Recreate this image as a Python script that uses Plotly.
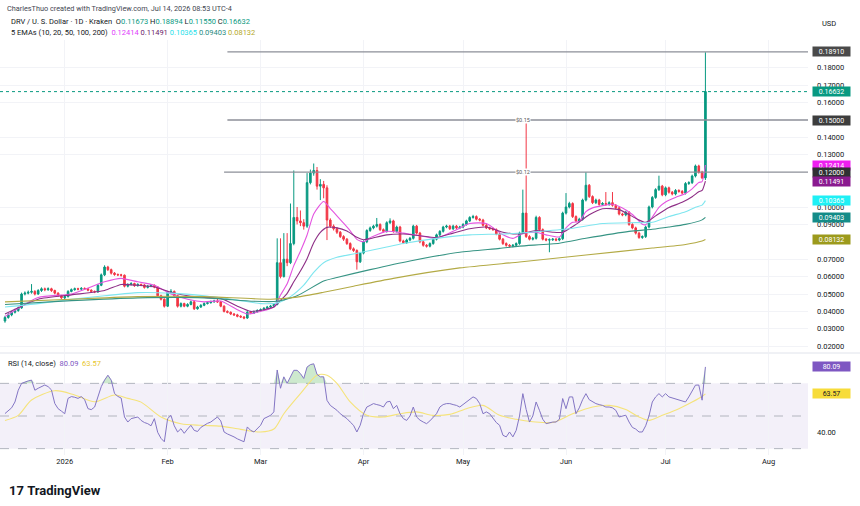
import plotly.graph_objects as go
import pandas as pd
import numpy as np

# ---------------- data ----------------
start_date = "2025-12-14"
n_days = 212
dates = pd.date_range(start_date, periods=n_days, freq="D")

opens = [.0345,.0365,.0380,.0395,.0405,.0420,.0500,.0505,.0510,.0515,
 .0500,.0520,.0530,.0525,.0530,.0520,.0505,.0490,.0478,.0485,
 .0515,.0525,.0530,.0528,.0532,.0530,.0522,.0515,.0512,.0550,
 .0610,.0655,.0640,.0620,.0612,.0610,.0608,.0545,.0555,.0560,
 .0548,.0555,.0552,.0538,.0545,.0550,.0540,.0490,.0470,.0430,
 .0510,.0515,.0490,.0430,.0445,.0430,.0440,.0455,.0415,.0425,
 .0435,.0445,.0450,.0455,.0460,.0455,.0430,.0400,.0395,.0385,
 .0380,.0372,.0368,.0362,.0395,.0390,.0398,.0405,.0410,.0418,
 .0425,.0430,.0440,.0680,.0600,.0700,.0680,.0790,.0940,.0920,
 .0910,.0890,.1140,.1195,.1210,.1120,.1130,.1110,.0925,.0890,
 .0875,.0855,.0830,.0815,.0790,.0760,.0750,.0685,.0735,.0800,
 .0865,.0880,.0890,.0900,.0870,.0860,.0910,.0920,.0860,.0885,
 .0805,.0795,.0810,.0820,.0890,.0850,.0800,.0780,.0775,.0790,
 .0815,.0840,.0860,.0885,.0890,.0875,.0890,.0880,.0885,.0900,
 .0920,.0940,.0945,.0930,.0925,.0895,.0880,.0875,.0870,.0845,
 .0815,.0790,.0780,.0775,.0780,.0790,.0850,.0965,.0830,.0815,
 .0820,.0940,.0870,.0815,.0810,.0812,.0815,.0810,.0818,.0965,
 .1000,.1020,.0945,.0920,.0930,.1040,.1125,.1060,.1025,.1040,
 .1015,.1020,.1015,.1025,.1010,.0995,.0960,.0955,.0970,.0900,
 .0880,.0850,.0825,.0830,.0885,.1000,.1055,.1100,.1120,.1070,
 .1110,.1085,.1075,.1095,.1090,.1080,.1135,.1140,.1178,.1236,
 .1200,.11673]

closes = [.0365,.0380,.0395,.0405,.0420,.0500,.0505,.0510,.0515,.0500,
 .0520,.0530,.0525,.0530,.0520,.0505,.0490,.0478,.0485,.0515,
 .0525,.0530,.0528,.0532,.0530,.0522,.0515,.0512,.0550,.0610,
 .0655,.0640,.0620,.0612,.0610,.0608,.0545,.0555,.0560,.0548,
 .0555,.0552,.0538,.0545,.0550,.0540,.0490,.0470,.0430,.0510,
 .0515,.0490,.0430,.0445,.0430,.0440,.0455,.0415,.0425,.0435,
 .0445,.0450,.0455,.0460,.0455,.0430,.0400,.0395,.0385,.0380,
 .0372,.0368,.0362,.0395,.0390,.0398,.0405,.0410,.0418,.0425,
 .0430,.0440,.0680,.0600,.0700,.0680,.0790,.0940,.0920,.0910,
 .0890,.1140,.1195,.1210,.1120,.1130,.1110,.0925,.0890,.0875,
 .0855,.0830,.0815,.0790,.0760,.0750,.0685,.0735,.0800,.0865,
 .0880,.0890,.0900,.0870,.0860,.0910,.0920,.0860,.0885,.0805,
 .0795,.0810,.0820,.0890,.0850,.0800,.0780,.0775,.0790,.0815,
 .0840,.0860,.0885,.0890,.0875,.0890,.0880,.0885,.0900,.0920,
 .0940,.0945,.0930,.0925,.0895,.0880,.0875,.0870,.0845,.0815,
 .0790,.0780,.0775,.0780,.0790,.0850,.0965,.0830,.0815,.0820,
 .0940,.0870,.0815,.0810,.0812,.0815,.0810,.0818,.0965,.1000,
 .1020,.0945,.0920,.0930,.1040,.1125,.1060,.1025,.1040,.1015,
 .1020,.1015,.1025,.1010,.0995,.0960,.0955,.0970,.0900,.0880,
 .0850,.0825,.0830,.0885,.1000,.1055,.1100,.1120,.1070,.1110,
 .1085,.1075,.1095,.1090,.1080,.1135,.1140,.1178,.1236,.1200,
 .11673,.16632]

highs = [.0375,.0390,.0402,.0415,.0428,.0508,.0515,.0520,.0557,.0522,
 .0528,.0538,.0537,.0538,.0536,.0525,.0510,.0495,.0492,.0522,
 .0532,.0537,.0536,.0540,.0538,.0535,.0527,.0520,.0558,.0618,
 .0665,.0662,.0646,.0626,.0618,.0616,.0612,.0562,.0568,.0565,
 .0562,.0560,.0557,.0552,.0557,.0555,.0545,.0496,.0475,.0518,
 .0528,.0520,.0495,.0452,.0450,.0447,.0462,.0460,.0432,.0442,
 .0452,.0457,.0462,.0467,.0480,.0460,.0435,.0406,.0400,.0391,
 .0386,.0378,.0373,.0402,.0401,.0405,.0412,.0417,.0425,.0432,
 .0437,.0447,.0820,.0820,.0850,.0850,.1020,.1210,.1000,.0980,
 .0930,.1195,.1215,.1250,.1230,.1160,.1150,.1125,.0935,.0900,
 .0885,.0862,.0838,.0822,.0797,.0768,.0757,.0742,.0808,.0872,
 .0888,.0898,.0937,.0906,.0877,.0918,.0935,.0927,.0893,.0892,
 .0812,.0818,.0828,.0898,.0897,.0857,.0807,.0787,.0797,.0822,
 .0847,.0867,.0892,.0898,.0897,.0898,.0897,.0892,.0907,.0927,
 .0947,.0955,.0952,.0937,.0932,.0902,.0887,.0882,.0877,.0852,
 .0822,.0797,.0787,.0787,.0797,.0858,.1100,.1500,.0838,.0828,
 .0950,.0947,.0877,.0822,.0820,.0822,.0822,.0825,.0973,.1080,
 .1030,.1027,.0952,.0938,.1048,.1200,.1132,.1067,.1048,.1047,
 .1028,.1086,.1033,.1086,.1017,.1002,.0967,.0978,.0977,.0907,
 .0887,.0857,.0837,.0893,.1008,.1063,.1108,.1180,.1127,.1118,
 .1117,.1092,.1103,.1102,.1097,.1143,.1148,.1186,.1244,.1243,
 .1208,.18894]

lows = [.0335,.0358,.0372,.0388,.0398,.0415,.0492,.0498,.0502,.0492,
 .0495,.0512,.0516,.0518,.0512,.0498,.0484,.0472,.0470,.0480,
 .0510,.0519,.0521,.0522,.0524,.0516,.0508,.0505,.0507,.0545,
 .0603,.0632,.0612,.0605,.0603,.0600,.0538,.0538,.0549,.0541,
 .0542,.0545,.0531,.0532,.0539,.0533,.0483,.0463,.0422,.0425,
 .0503,.0484,.0422,.0423,.0424,.0424,.0435,.0408,.0410,.0420,
 .0430,.0440,.0445,.0450,.0449,.0424,.0394,.0389,.0379,.0374,
 .0366,.0362,.0355,.0357,.0384,.0385,.0393,.0400,.0405,.0413,
 .0420,.0425,.0435,.0590,.0595,.0660,.0672,.0780,.0900,.0890,
 .0870,.0880,.1130,.1180,.1100,.1040,.1050,.0810,.0880,.0865,
 .0845,.0822,.0805,.0782,.0752,.0742,.0640,.0678,.0728,.0792,
 .0857,.0872,.0882,.0862,.0852,.0853,.0902,.0852,.0853,.0797,
 .0787,.0788,.0803,.0813,.0842,.0792,.0772,.0767,.0768,.0783,
 .0808,.0833,.0853,.0878,.0868,.0868,.0873,.0873,.0878,.0893,
 .0913,.0933,.0923,.0918,.0888,.0873,.0868,.0863,.0838,.0808,
 .0782,.0772,.0767,.0768,.0773,.0783,.0843,.0822,.0808,.0808,
 .0813,.0862,.0808,.0803,.0740,.0805,.0803,.0803,.0810,.0957,
 .0992,.0937,.0912,.0912,.0922,.1032,.1052,.1017,.1017,.1007,
 .1007,.1007,.1007,.1002,.0987,.0952,.0947,.0947,.0892,.0872,
 .0842,.0817,.0817,.0822,.0877,.0992,.1047,.1092,.1062,.1062,
 .1077,.1067,.1067,.1082,.1072,.1072,.1127,.1132,.1170,.1192,
 .1160,.1155]

# EMA values read at sample days (day index from start_date)
ema10_idx = [0,10,20,30,35,40,45,50,55,60,65,70,73,77,81,83,85,87,89,91,93,96,98,100,102,104,106,108,110,115,120,125,130,135,140,145,150,153,156,160,163,167,169,171,173,175,177,180,183,186,189,192,193,195,197,199,202,205,207,209,210,211]
ema10_val = [.037,.048,.050,.057,.059,.057,.055,.050,.047,.0455,.046,.041,.0385,.040,.0425,.0494,.0559,.0663,.0746,.0839,.0960,.1032,.0991,.0949,.0907,.0863,.0814,.0800,.0824,.086,.085,.0835,.082,.086,.0905,.0905,.0840,.0820,.0848,.0855,.0840,.0828,.0880,.0912,.0917,.0973,.0995,.1008,.1016,.0994,.0957,.0901,.0898,.0942,.0998,.1029,.1055,.1077,.1104,.1141,.1146,.12414]

ema20_idx = [0,10,20,30,35,40,45,50,55,60,65,70,74,78,81,83,85,87,89,91,93,95,97,100,103,106,108,110,115,120,125,130,135,140,145,150,155,160,165,168,172,176,180,185,190,193,196,200,204,207,209,210,211]
ema20_val = [.0385,.047,.0495,.052,.0555,.055,.054,.051,.049,.048,.0475,.043,.040,.041,.0425,.0463,.0504,.0570,.0632,.0703,.0794,.0854,.0883,.0880,.0862,.0826,.0812,.0818,.0840,.0845,.0835,.0825,.085,.0875,.0885,.0855,.0845,.0865,.0855,.0855,.090,.0955,.099,.0985,.0935,.0912,.0949,.0997,.1027,.1059,.1088,.1095,.11491]

ema50_idx = [0,10,20,30,40,50,60,70,77,82,86,90,93,96,100,105,110,115,120,130,140,150,160,170,180,190,195,200,205,208,210,211]
ema50_val = [.0425,.0445,.047,.049,.0508,.0505,.049,.0465,.0445,.0449,.0485,.0551,.0624,.0680,.0711,.0730,.0750,.0770,.0790,.0820,.0840,.0845,.0858,.0875,.0905,.0910,.0912,.0945,.0973,.0999,.1011,.10365]

ema100_idx = [0,20,40,60,75,82,88,96,100,110,122,137,149,155,167,175,188,195,200,205,210,211]
ema100_val = [.0440,.0462,.0478,.0478,.0458,.0458,.0490,.0575,.0595,.0640,.0690,.0740,.0762,.0775,.0792,.0820,.0860,.0872,.0885,.0900,.0926,.09403]

ema200_idx = [0,20,40,60,80,88,96,105,117,137,155,175,195,205,210,211]
ema200_val = [.0455,.0470,.0485,.0485,.0470,.0482,.0510,.0545,.0590,.0650,.0684,.0724,.0764,.0785,.0805,.08132]

rsi = [51.5,53,55,58.6,65.8,70,71,71.5,72,65.8,
 67,68,69,68,66,57.7,54.5,53,51.4,60.8,
 61.9,61.5,60.8,61.9,60,54.5,53.9,55.5,62,68,
 72,75,72,63.8,62,61,49.4,46.3,48.4,49,
 49.4,47.3,46,45.3,44,48.4,40,36.3,34.2,48.4,
 50.4,44,40.2,42.2,39.4,42,44.3,41.2,40.5,43,
 44.3,45.5,46.3,48,49.4,47,40.2,39,38.2,37.2,
 36,35,34.2,43.3,41.2,40.2,42.2,44.3,48.4,49.4,
 50.4,52.5,78.2,67,74,70,74,78,78,76,
 73,80,81.5,82,75.5,74,74,59.6,56.5,55,
 53.5,51.4,50,48.4,46.3,44.3,40.2,44.3,51.4,55.5,
 56.5,57.6,57,56.5,55.5,58.6,59,54.5,56.5,51.4,
 48.4,47.3,50,55.5,49.4,47.5,46.3,45.3,47,49.4,
 51.4,55.5,57,57.6,57.6,57,56.5,55.5,57,58.6,
 60.5,61.7,60.7,57.6,51.4,52.5,51.4,48.4,46,44.3,
 38.2,37.2,40.2,37.2,41.2,50,63.7,54,46.3,50,
 58.6,53.5,48,45.3,46,46.3,46.3,48,60.7,54.5,
 61.7,61.7,51.4,55,60,63.7,60,58.6,57.6,57,
 56.5,55.5,55.5,55,53.5,49.4,50,50.5,46.3,43,
 42,40.2,40.2,44,50,58.6,61.7,63.7,61.7,63.7,
 61.7,61,60.5,59.7,59,58.6,61.7,65.8,68.9,69,
 59.7,80.09]

rsi_ma_idx = [0,4,8,15,21,27,33,37,41,47,53,59,65,71,77,81,84,89,94,97,100,104,109,114,119,124,129,134,139,144,149,154,159,165,171,177,182,187,191,194,198,203,207,210,211]
rsi_ma_val = [47.3,50.4,59.8,65.5,62.9,58.7,62.9,60.8,58.5,49.4,45.3,44.3,43.8,41.8,40.2,42,51.4,63.7,75,75,70,58.6,50.4,49.4,51.4,52.5,50.4,51,54.5,56.5,50.4,48,46.5,46,51.4,55.5,56.5,54,49.4,47.3,50.4,54.5,58.6,62,63.57]

levels = [0.1891, 0.15, 0.12]
level_start = ["2026-02-19", "2026-02-19", "2026-02-18"]
level_tags = ["", "$0.15", "$0.12"]
level_tag_date = "2026-05-19"

# price-scale tick labels visible in the reference (those under boxes are hidden)
price_ticks = [0.02,0.03,0.04,0.05,0.06,0.07,0.09,0.10,0.13,0.14,0.16,0.17,0.18]
month_ticks = ["2026-01-01","2026-02-01","2026-03-01","2026-04-01","2026-05-01","2026-06-01","2026-07-01","2026-08-01"]
month_text = ["2026","Feb","Mar","Apr","May","Jun","Jul","Aug"]

ema_names = ["EMA10","EMA20","EMA50","EMA100","EMA200"]
ema_line_colors = ["#e455e0","#8e2f86","#7fe6ef","#379484","#b3aa45"]
ema_box_colors = ["#ee1ff0","#8a1a8f","#1ff0f5","#148c88","#9c9a1c"]
ema_last = [0.12414, 0.11491, 0.10365, 0.09403, 0.08132]

# ---------------- geometry ----------------
W, H = 860, 506
ML, MR, MT, MB = 0, 52, 40, 51
PW, PH = W - ML - MR, H - MT - MB

def px(x):
    return (x - ML) / PW

def py(y):
    return (H - MB - y) / PH

x_range = ["2025-12-12 12:00", "2026-08-12 21:36"]
price_range = [0.01667, 0.19598]
rsi_range = [26.1, 88.0]

GREEN = "#089981"
RED = "#f23645"
FONT = "Roboto"
TXT = "#131722"

fig = go.Figure()

# EMA lines (drawn below candles)
ema_sets = [(ema10_idx, ema10_val), (ema20_idx, ema20_val), (ema50_idx, ema50_val),
            (ema100_idx, ema100_val), (ema200_idx, ema200_val)]
for (idx, vals), col, name in zip(ema_sets, ema_line_colors, ema_names):
    fig.add_trace(go.Scatter(x=[dates[i] for i in idx], y=vals, mode="lines",
                             line=dict(color=col, width=1.1, shape="spline", smoothing=0.6),
                             name=name, showlegend=False, hoverinfo="skip", xaxis="x", yaxis="y"))

# level lines
for lv, st in zip(levels, level_start):
    fig.add_trace(go.Scatter(x=[st, x_range[1]], y=[lv, lv], mode="lines",
                             line=dict(color="#8c8f98", width=1.3), showlegend=False,
                             hoverinfo="skip", xaxis="x", yaxis="y"))

# current price dotted line
fig.add_trace(go.Scatter(x=x_range, y=[closes[-1], closes[-1]], mode="lines",
                         line=dict(color=GREEN, width=1, dash="dot"), showlegend=False,
                         hoverinfo="skip", xaxis="x", yaxis="y"))

# candles
fig.add_trace(go.Candlestick(x=dates, open=opens, high=highs, low=lows, close=closes,
                             increasing=dict(line=dict(color=GREEN, width=1), fillcolor=GREEN),
                             decreasing=dict(line=dict(color=RED, width=1), fillcolor=RED),
                             whiskerwidth=0, showlegend=False, xaxis="x", yaxis="y"))

# RSI overbought fill
rsi_arr = np.array(rsi)
fig.add_trace(go.Scatter(x=dates, y=[70] * n_days, mode="lines", line=dict(width=0),
                         showlegend=False, hoverinfo="skip", xaxis="x", yaxis="y2"))
fig.add_trace(go.Scatter(x=dates, y=np.maximum(rsi_arr, 70), mode="lines", line=dict(width=0),
                         fill="tonexty", fillcolor="rgba(76,175,80,0.28)",
                         showlegend=False, hoverinfo="skip", xaxis="x", yaxis="y2"))
# RSI MA and RSI
fig.add_trace(go.Scatter(x=[dates[i] for i in rsi_ma_idx], y=rsi_ma_val, mode="lines",
                         line=dict(color="#f5e37a", width=1.1, shape="spline", smoothing=0.8),
                         showlegend=False, hoverinfo="skip", xaxis="x", yaxis="y2"))
fig.add_trace(go.Scatter(x=dates, y=rsi, mode="lines", line=dict(color="#8375c4", width=1),
                         showlegend=False, hoverinfo="skip", xaxis="x", yaxis="y2"))

shapes = []
# RSI band and levels
shapes.append(dict(type="rect", xref="x domain", yref="y2", x0=0, x1=1, y0=30, y1=70,
                   fillcolor="rgba(126,87,194,0.09)", line=dict(width=0), layer="below"))
for lvl in (70, 50, 30):
    shapes.append(dict(type="line", xref="x domain", yref="y2", x0=0, x1=1, y0=lvl, y1=lvl,
                       line=dict(color="#b2b5be", width=1, dash="dash"), layer="below"))
# pane separator
shapes.append(dict(type="line", xref="paper", yref="paper", x0=0, x1=1 + MR / PW,
                   y0=py(353), y1=py(353), line=dict(color="#e0e3eb", width=1)))

annotations = []
# price-scale boxes
def box(y, text, bg, yref="y", fc="white"):
    annotations.append(dict(x=1, xref="paper", y=y, yref=yref, xanchor="left", yanchor="middle",
                            xshift=4, text=text, showarrow=False, bgcolor=bg, width=36, height=8,
                            borderpad=0.5, font=dict(family=FONT, size=7, color=fc)))

box(levels[0], f"{levels[0]:.5f}", "#4a4a4a")
box(levels[1], f"{levels[1]:.5f}", "#3d3d3d")
box(closes[-1], f"{closes[-1]:.5f}", GREEN)
for v, c in zip(ema_last, ema_box_colors):
    if v > levels[2]:
        box(v, f"{v:.5f}", c)
box(levels[2], f"{levels[2]:.5f}", "#2f3033")
for v, c in zip(ema_last, ema_box_colors):
    if v < levels[2]:
        box(v, f"{v:.5f}", c)
box(rsi[-1], f"{rsi[-1]:.2f}", "#7e57c2", yref="y2")
box(rsi_ma_val[-1], f"{rsi_ma_val[-1]:.2f}", "#f7dc3a", yref="y2", fc=TXT)

# level tags
for lv, tag in zip(levels, level_tags):
    if tag:
        annotations.append(dict(x=level_tag_date, xref="x", y=lv, yref="y", text=tag,
                                showarrow=False, bgcolor="white", borderpad=0,
                                font=dict(family=FONT, size=5.5, color="#555")))

# header texts
annotations.append(dict(x=px(5), y=py(9), xref="paper", yref="paper", xanchor="left", yanchor="middle",
                        text="CharlesThuo created with TradingView.com, Jul 14, 2026 08:53 UTC-4",
                        showarrow=False, font=dict(family=FONT, size=7.3, color="#434651")))
ohlc = (f"DRV / U. S. Dollar · 1D · Kraken&nbsp;&nbsp;O<span style='color:{GREEN}'>{opens[-1]:.5f}</span>"
        f" H<span style='color:{GREEN}'>{highs[-1]:.5f}</span>"
        f" L<span style='color:{GREEN}'>{lows[-1]:.5f}</span>"
        f" C<span style='color:{GREEN}'>{closes[-1]:.5f}</span>")
annotations.append(dict(x=px(9), y=py(22), xref="paper", yref="paper", xanchor="left", yanchor="middle",
                        text=ohlc, showarrow=False, font=dict(family=FONT, size=7.5, color=TXT)))
ema_txt = "5 EMAs (10, 20, 50, 100, 200)&nbsp;&nbsp;" + " ".join(
    f"<span style='color:{c}'>{v:.5f}</span>" for v, c in
    zip(ema_last, ["#e040fb", "#6a1b6a", "#26e0ea", "#1f8a80", "#b5a82a"]))
annotations.append(dict(x=px(9), y=py(33), xref="paper", yref="paper", xanchor="left", yanchor="middle",
                        text=ema_txt, showarrow=False, font=dict(family=FONT, size=7.5, color=TXT)))
annotations.append(dict(x=px(829), y=py(24), xref="paper", yref="paper", xanchor="center", yanchor="middle",
                        text="USD", showarrow=False, font=dict(family=FONT, size=7.5, color=TXT)))
rsi_txt = (f"RSI (14, close)&nbsp;&nbsp;<span style='color:#7e57c2'>{rsi[-1]:.2f}</span>"
           f"&nbsp;&nbsp;<span style='color:#e8c62a'>{rsi_ma_val[-1]:.2f}</span>")
annotations.append(dict(x=px(6), y=py(363), xref="paper", yref="paper", xanchor="left", yanchor="middle",
                        text=rsi_txt, showarrow=False, font=dict(family=FONT, size=7.5, color=TXT)))
annotations.append(dict(x=px(7), y=py(490), xref="paper", yref="paper", xanchor="left", yanchor="middle",
                        text="<b>17</b>&nbsp;<b>TradingView</b>", showarrow=False,
                        font=dict(family=FONT, size=13, color="#131722")))

fig.update_layout(
    width=W, height=H,
    margin=dict(l=ML, r=MR, t=MT, b=MB),
    paper_bgcolor="white", plot_bgcolor="white",
    showlegend=False,
    shapes=shapes, annotations=annotations,
    xaxis=dict(domain=[0, 1], anchor="y2", type="date", range=x_range,
               tickvals=month_ticks, ticktext=month_text, showgrid=True, gridcolor="#f2f3f7",
               gridwidth=1, zeroline=False, showline=False, ticks="",
               tickfont=dict(family=FONT, size=7.5, color=TXT), rangeslider=dict(visible=False),
               fixedrange=True),
    yaxis=dict(domain=[py(352), 1.0], anchor="x", side="right", range=price_range,
               tickvals=price_ticks, ticktext=[f"{v:.5f}" for v in price_ticks],
               showgrid=True, gridcolor="#f2f3f7", zeroline=False, showline=False, ticks="",
               tickfont=dict(family=FONT, size=7.5, color=TXT), ticklabelstandoff=8),
    yaxis2=dict(domain=[0.0, py(354)], anchor="x", side="right", range=rsi_range,
                tickvals=[40], ticktext=["40.00"], showgrid=False, zeroline=False,
                showline=False, ticks="", tickfont=dict(family=FONT, size=7.5, color=TXT),
                ticklabelstandoff=8),
)

fig.write_html("out.html")
